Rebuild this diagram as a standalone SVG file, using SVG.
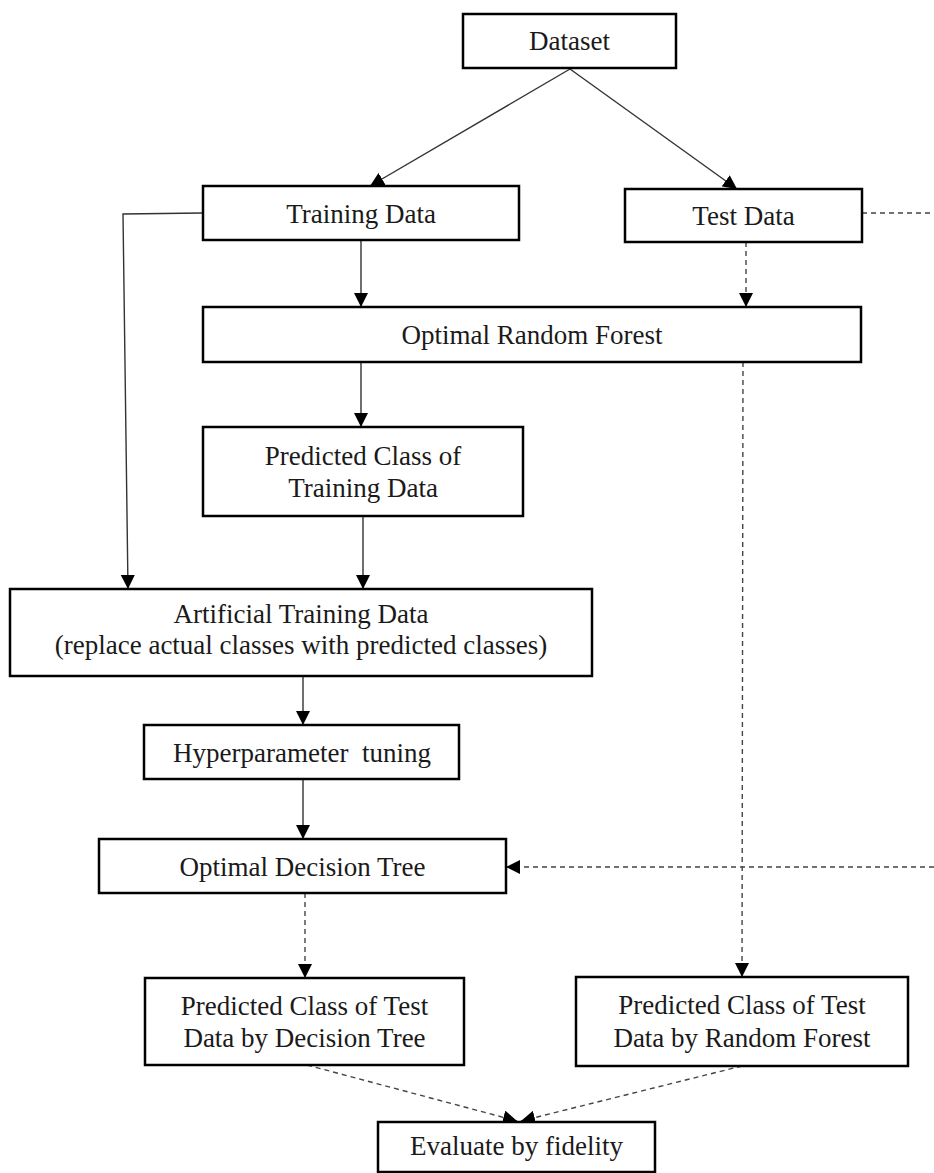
<svg xmlns="http://www.w3.org/2000/svg" width="934" height="1173" viewBox="0 0 934 1173">
<style>
.box{fill:#fff;stroke:#000;stroke-width:2.5}
.t{font-family:"Liberation Serif","Times New Roman",serif;font-size:27px;fill:#1a1a1a;text-anchor:middle}
.c{fill:none;stroke:#333;stroke-width:1.4}
.d{fill:none;stroke:#444;stroke-width:1.4;stroke-dasharray:5 4}
</style>
<defs>
<marker id="ah" viewBox="0 0 10 10" refX="10" refY="5" markerWidth="14" markerHeight="14" markerUnits="userSpaceOnUse" orient="auto">
<path d="M0,0 L10,5 L0,10 Z" fill="#000"/>
</marker>
</defs>
<g id="connectors">
<line class="c" x1="570" y1="69" x2="370" y2="186" marker-end="url(#ah)"/>
<line class="c" x1="570" y1="69" x2="737" y2="189" marker-end="url(#ah)"/>
<polyline class="c" points="203,213 123,214 128,589" marker-end="url(#ah)"/>
<line class="c" x1="361" y1="240" x2="361" y2="307" marker-end="url(#ah)"/>
<line class="d" x1="746" y1="242" x2="746" y2="307" marker-end="url(#ah)"/>
<line class="d" x1="862" y1="213" x2="934" y2="213"/>
<line class="c" x1="361" y1="362" x2="361" y2="427" marker-end="url(#ah)"/>
<line class="c" x1="363" y1="516" x2="363" y2="589" marker-end="url(#ah)"/>
<line class="c" x1="303" y1="676" x2="303" y2="725" marker-end="url(#ah)"/>
<line class="c" x1="303" y1="779" x2="303" y2="839" marker-end="url(#ah)"/>
<line class="d" x1="934" y1="867" x2="506" y2="867" marker-end="url(#ah)"/>
<line class="d" x1="743" y1="362" x2="742" y2="977" marker-end="url(#ah)"/>
<line class="d" x1="305" y1="893" x2="305" y2="978" marker-end="url(#ah)"/>
<line class="d" x1="307" y1="1065" x2="517" y2="1121" marker-end="url(#ah)"/>
<line class="d" x1="742" y1="1066" x2="521" y2="1121" marker-end="url(#ah)"/>
</g>
<g id="dataset">
<rect class="box" x="463" y="14" width="213" height="54"/>
<text class="t" x="569.5" y="50">Dataset</text>
</g>
<g id="training-data">
<rect class="box" x="203" y="186" width="316" height="54"/>
<text class="t" x="361" y="223">Training Data</text>
</g>
<g id="test-data">
<rect class="box" x="625" y="189" width="237" height="53"/>
<text class="t" x="743.5" y="225">Test Data</text>
</g>
<g id="optimal-random-forest">
<rect class="box" x="203" y="307" width="658" height="55"/>
<text class="t" x="532" y="344">Optimal Random Forest</text>
</g>
<g id="predicted-training">
<rect class="box" x="203" y="427" width="320" height="89"/>
<text class="t" x="363" y="465">Predicted Class of</text>
<text class="t" x="363" y="497">Training Data</text>
</g>
<g id="artificial-training">
<rect class="box" x="10" y="589" width="582" height="87"/>
<text class="t" x="301" y="623">Artificial Training Data</text>
<text class="t" x="301" y="654">(replace actual classes with predicted classes)</text>
</g>
<g id="hyperparameter">
<rect class="box" x="144" y="725" width="315" height="54"/>
<text class="t" x="302" y="762" xml:space="preserve">Hyperparameter  tuning</text>
</g>
<g id="optimal-decision-tree">
<rect class="box" x="99" y="839" width="407" height="54"/>
<text class="t" x="302.5" y="876">Optimal Decision Tree</text>
</g>
<g id="predicted-dt">
<rect class="box" x="145" y="978" width="319" height="87"/>
<text class="t" x="304.5" y="1015">Predicted Class of Test</text>
<text class="t" x="304.5" y="1047">Data by Decision Tree</text>
</g>
<g id="predicted-rf">
<rect class="box" x="576" y="977" width="332" height="89"/>
<text class="t" x="742" y="1014">Predicted Class of Test</text>
<text class="t" x="742" y="1047">Data by Random Forest</text>
</g>
<g id="evaluate">
<rect class="box" x="378" y="1122" width="277" height="50"/>
<text class="t" x="516.5" y="1155">Evaluate by fidelity</text>
</g>
</svg>
